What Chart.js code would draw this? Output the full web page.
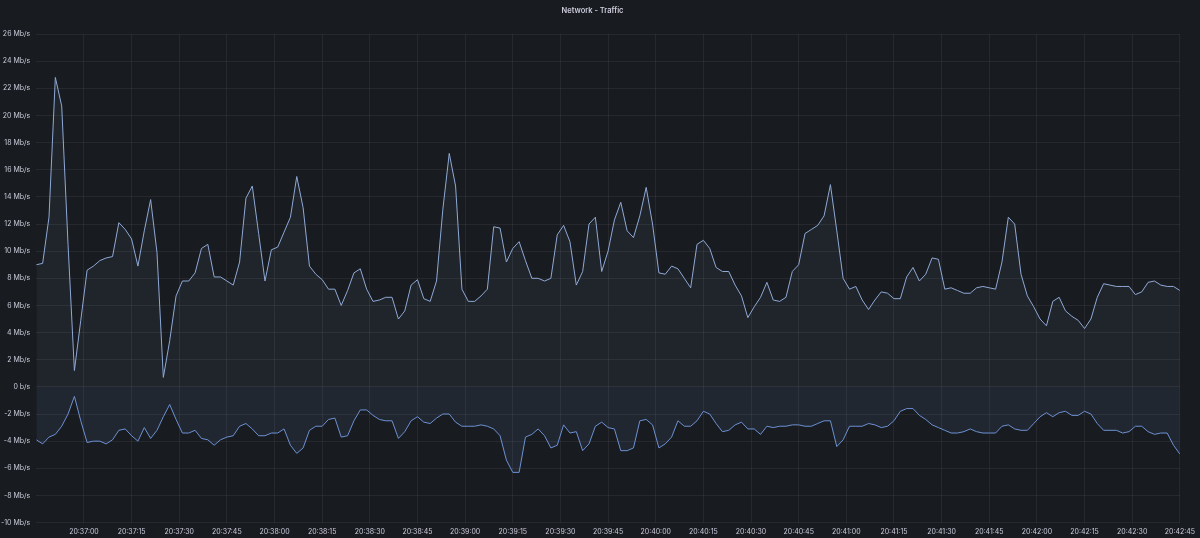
<!DOCTYPE html>
<html>
<head>
<meta charset="utf-8">
<script src="https://cdn.jsdelivr.net/npm/chart.js@4"></script>
<style>
  html, body { margin: 0; padding: 0; background: #181b1f; }
  #wrap { width: 1200px; height: 538px; }
</style>
</head>
<body>
<div id="wrap"><canvas id="chart" width="1200" height="538"></canvas></div>
<script>
// samples every 2s, 20:36:45 -> 20:42:45
const startTime = '20:36:45';
const stepSeconds = 2;

const inbound = [
  9.0, 9.1, 12.5, 22.8, 20.7, 10.5, 1.2, 4.9, 8.6, 8.9,
  9.3, 9.5, 9.6, 12.1, 11.6, 10.9, 8.9, 11.5, 13.8, 9.9,
  0.7, 3.4, 6.7, 7.8, 7.8, 8.4, 10.2, 10.5, 8.1, 8.1,
  7.8, 7.5, 9.2, 13.9, 14.8, 11.3, 7.8, 10.1, 10.3, 11.4,
  12.5, 15.5, 13.2, 8.9, 8.3, 7.9, 7.2, 7.2, 6.0, 7.1,
  8.4, 8.7, 7.2, 6.3, 6.4, 6.6, 6.6, 5.0, 5.6, 7.5,
  7.9, 6.5, 6.3, 7.8, 13.1, 17.2, 14.8, 7.2, 6.3, 6.3,
  6.7, 7.2, 11.8, 11.7, 9.2, 10.2, 10.7, 9.3, 8.0, 8.0,
  7.8, 8.0, 11.2, 11.9, 10.7, 7.5, 8.5, 12.0, 12.5, 8.5,
  10.0, 12.3, 13.6, 11.5, 11.0, 12.6, 14.7, 12.0, 8.4, 8.3,
  8.9, 8.7, 8.0, 7.3, 10.5, 10.8, 10.2, 8.8, 8.5, 8.5,
  7.5, 6.7, 5.1, 5.9, 6.6, 7.7, 6.4, 6.3, 6.6, 8.5,
  9.0, 11.3, 11.6, 11.9, 12.6, 14.9, 11.5, 8.0, 7.2, 7.4,
  6.4, 5.7, 6.4, 7.0, 6.9, 6.5, 6.5, 8.1, 8.8, 7.8,
  8.3, 9.5, 9.4, 7.2, 7.3, 7.1, 6.9, 6.9, 7.3, 7.4,
  7.3, 7.2, 9.2, 12.5, 12.0, 8.3, 6.7, 5.9, 5.0, 4.5,
  6.3, 6.6, 5.6, 5.2, 4.9, 4.3, 5.0, 6.6, 7.6, 7.5,
  7.4, 7.4, 7.4, 6.8, 7.0, 7.7, 7.8, 7.5, 7.4, 7.4,
  7.1
];

const outbound = [
  -3.9, -4.2, -3.7, -3.5, -2.9, -2.0, -0.7, -2.5, -4.1, -4.0,
  -4.0, -4.2, -3.9, -3.2, -3.1, -3.6, -4.0, -3.0, -3.8, -3.2,
  -2.2, -1.3, -2.4, -3.4, -3.4, -3.2, -3.8, -3.9, -4.3, -3.9,
  -3.7, -3.6, -2.9, -2.7, -3.1, -3.6, -3.6, -3.4, -3.4, -3.1,
  -4.3, -4.9, -4.5, -3.2, -2.9, -2.9, -2.4, -2.3, -3.7, -3.6,
  -2.5, -1.7, -1.7, -2.1, -2.4, -2.5, -2.5, -3.8, -3.3, -2.5,
  -2.2, -2.6, -2.7, -2.3, -2.0, -2.0, -2.6, -2.9, -2.9, -2.9,
  -2.8, -2.9, -3.1, -3.6, -5.4, -6.3, -6.3, -3.7, -3.5, -3.1,
  -3.6, -4.5, -4.3, -2.8, -3.4, -3.3, -4.7, -4.2, -2.9, -2.6,
  -3.0, -3.1, -4.7, -4.7, -4.5, -2.5, -2.4, -2.8, -4.5, -4.2,
  -3.7, -2.5, -2.9, -2.9, -2.5, -1.8, -2.0, -2.7, -3.3, -3.2,
  -2.8, -2.6, -3.1, -3.1, -3.5, -2.9, -3.0, -2.9, -2.9, -2.8,
  -2.8, -2.9, -2.9, -2.7, -2.5, -2.5, -4.4, -3.9, -2.9, -2.9,
  -2.9, -2.7, -2.8, -3.0, -2.9, -2.5, -1.8, -1.6, -1.6, -2.1,
  -2.4, -2.8, -3.0, -3.2, -3.4, -3.4, -3.3, -3.1, -3.3, -3.4,
  -3.4, -3.4, -2.9, -2.8, -3.1, -3.2, -3.2, -2.7, -2.2, -1.9,
  -2.2, -1.9, -1.8, -2.1, -2.1, -1.8, -2.0, -2.7, -3.2, -3.2,
  -3.2, -3.4, -3.3, -2.9, -2.9, -3.3, -3.5, -3.4, -3.4, -4.3,
  -4.95
];

const xTickLabels = [
  '20:37:00', '20:37:15', '20:37:30', '20:37:45', '20:38:00', '20:38:15',
  '20:38:30', '20:38:45', '20:39:00', '20:39:15', '20:39:30', '20:39:45',
  '20:40:00', '20:40:15', '20:40:30', '20:40:45', '20:41:00', '20:41:15',
  '20:41:30', '20:41:45', '20:42:00', '20:42:15', '20:42:30', '20:42:45'
];

const yMin = -10;
const yMax = 26;
const yStep = 2;

function toSec(s) {
  const p = s.split(':').map(Number);
  return p[0] * 3600 + p[1] * 60 + p[2];
}
function pad(n) { return String(n).padStart(2, '0'); }
function fmt(t) {
  return pad(Math.floor(t / 3600)) + ':' + pad(Math.floor(t / 60) % 60) + ':' + pad(t % 60);
}

const t0 = toSec(startTime);
const sampleTimes = inbound.map((v, i) => t0 + i * stepSeconds);

const gridColor = 'rgba(204, 204, 220, 0.08)';
const textColor = '#ccccdc';

const background = {
  id: 'background',
  beforeDraw(chart) {
    const ctx = chart.ctx;
    ctx.save();
    ctx.fillStyle = '#181b1f';
    ctx.fillRect(0, 0, chart.width, chart.height);
    ctx.restore();
  }
};

function createChart() {
  const ctx = document.getElementById('chart');

  new Chart(ctx, {
    type: 'line',
    data: {
      datasets: [{
        label: 'in',
        data: inbound.map((v, i) => ({ x: sampleTimes[i], y: v })),
        borderColor: '#8fa9d6',
        backgroundColor: 'rgba(143, 169, 214, 0.07)',
        borderWidth: 1,
        pointRadius: 0,
        tension: 0,
        fill: 'origin'
      }, {
        label: 'out',
        data: outbound.map((v, i) => ({ x: sampleTimes[i], y: v })),
        borderColor: '#6d91d3',
        backgroundColor: 'rgba(109, 145, 211, 0.10)',
        borderWidth: 1,
        pointRadius: 0,
        tension: 0,
        fill: 'origin'
      }]
    },
    options: {
      responsive: false,
      animation: false,
      layout: { padding: { left: -5, right: 10, top: 0, bottom: -3 } },
      plugins: {
        legend: { display: false },
        tooltip: { enabled: false },
        title: {
          display: true,
          text: 'Network - Traffic',
          color: textColor,
          font: { family: 'Inter', size: 7.5, weight: '600' },
          padding: { top: 6, bottom: 19 }
        }
      },
      scales: {
        x: {
          type: 'linear',
          min: sampleTimes[0],
          max: sampleTimes[sampleTimes.length - 1],
          afterBuildTicks: (scale) => {
            scale.ticks = xTickLabels.map(l => ({ value: toSec(l) }));
          },
          grid: { color: gridColor, drawTicks: false },
          border: { display: false },
          ticks: {
            autoSkip: false,
            maxRotation: 0,
            minRotation: 0,
            color: textColor,
            padding: 5,
            font: { family: 'Inter', size: 7 },
            callback: (v) => fmt(v)
          }
        },
        y: {
          min: yMin,
          max: yMax,
          grid: { color: gridColor, drawTicks: false },
          border: { display: false },
          ticks: {
            stepSize: yStep,
            color: textColor,
            padding: 6,
            font: { family: 'Inter', size: 7 },
            callback: (v) => v === 0 ? '0 b/s' : v + ' Mb/s'
          }
        }
      }
    },
    plugins: [background]
  });
}

createChart();
</script>
</body>
</html>
